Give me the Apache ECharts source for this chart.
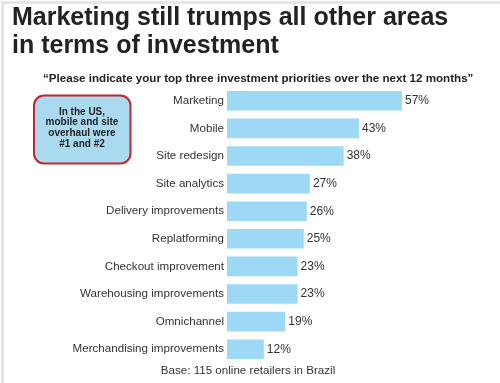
<!DOCTYPE html>
<html><head><meta charset="utf-8">
<script src="https://cdn.jsdelivr.net/npm/echarts@6/dist/echarts.min.js"></script>
<style>html,body{margin:0;padding:0;background:#fff}#c{width:500px;height:383px}</style>
</head><body><div id="c"></div>
<script>
const categories = ["Marketing","Mobile","Site redesign","Site analytics","Delivery improvements","Replatforming","Checkout improvement","Warehousing improvements","Omnichannel","Merchandising improvements"];
const values = [57,43,38,27,26,25,23,23,19,12];
const titleLines = ["Marketing still trumps all other areas","in terms of investment"];
const subtitleText = "\u201cPlease indicate your top three investment priorities over the next 12 months\u201d";
const calloutText = "In the US,\nmobile and site\noverhaul were\n#1 and #2";
const footerText = "Base: 115 online retailers in Brazil";

const chart = echarts.init(document.getElementById('c'), null, {renderer:'canvas'});
const F = "'Liberation Sans', Arial, sans-serif";
chart.setOption({
  animation:false,
  grid:{left:227, top:87, height:276, width:245.6, containLabel:false},
  xAxis:{type:'value', min:0, max:80, show:false},
  yAxis:{type:'category', inverse:true, data:categories,
    axisLine:{show:false}, axisTick:{show:false},
    axisLabel:{margin:3, color:'#333', fontSize:11.6, fontFamily:F}},
  series:[{type:'bar', data:values, barCategoryGap:'29%', itemStyle:{color:'#9dd9f5'},
    label:{show:true, position:'right', distance:3, formatter:'{c}%', color:'#333', fontSize:12, fontFamily:F}}],
  graphic:[
    {type:'rect', left:0, top:0, shape:{width:500, height:383}, style:{fill:'none', stroke:'#e4e6ea', lineWidth:3}, silent:true},
    {type:'text', x:12, y:18.5, style:{text:titleLines[0], font:"bold 25px "+F, fill:'#222', verticalAlign:'middle'}},
    {type:'text', x:12, y:46, style:{text:titleLines[1], font:"bold 25px "+F, fill:'#222', verticalAlign:'middle'}},
    {type:'text', x:43, y:79, style:{text:subtitleText, font:"bold 11.6px "+F, fill:'#222', verticalAlign:'middle'}},
    {type:'rect', shape:{x:34, y:95.5, width:96.5, height:68, r:10}, style:{fill:'#a9daf0', stroke:'#c1272d', lineWidth:2}},
    {type:'text', x:82, y:128, style:{text:calloutText, font:"bold 10px "+F, fill:'#222', align:'center', verticalAlign:'middle', lineHeight:10.8}},
    {type:'text', x:248, y:371, style:{text:footerText, font:"11.6px "+F, fill:'#333', align:'center', verticalAlign:'middle'}}
  ]
});
</script></body></html>
